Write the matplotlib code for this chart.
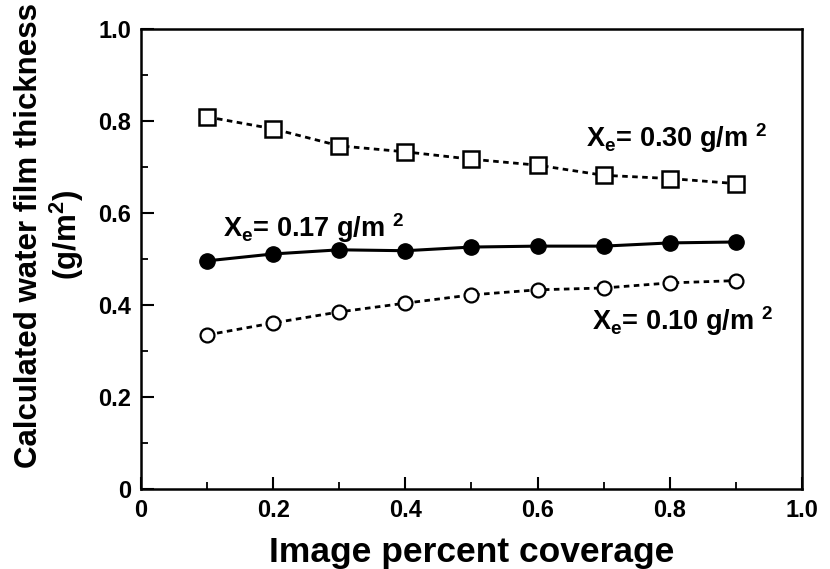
import matplotlib
matplotlib.use("Agg")
import matplotlib.pyplot as plt
from matplotlib.ticker import MultipleLocator, FixedLocator, FixedFormatter

plt.rcParams['font.family'] = ['Liberation Sans', 'DejaVu Sans']
plt.rcParams['font.weight'] = 'bold'
plt.rcParams['mathtext.default'] = 'regular'

coverage = [0.1, 0.2, 0.3, 0.4, 0.5, 0.6, 0.7, 0.8, 0.9]
xe_030 = [0.809, 0.783, 0.746, 0.733, 0.717, 0.704, 0.682, 0.675, 0.664]
xe_017 = [0.496, 0.511, 0.520, 0.518, 0.526, 0.528, 0.528, 0.535, 0.537]
xe_010 = [0.335, 0.361, 0.385, 0.404, 0.422, 0.433, 0.437, 0.448, 0.453]

tick_vals = [0, 0.2, 0.4, 0.6, 0.8, 1.0]
tick_labels = ['0', '0.2', '0.4', '0.6', '0.8', '1.0']

fig = plt.figure(figsize=(8.3, 5.69), dpi=100)
ax = fig.add_axes([0.170, 0.1406, 0.796, 0.8084])

ax.plot(coverage, xe_030, linestyle=(0, (2.0, 1.6)), color='black', lw=2.0,
        marker='s', markersize=12, markerfacecolor='white', markeredgecolor='black', markeredgewidth=1.8)
ax.plot(coverage, xe_017, linestyle='-', color='black', lw=2.2,
        marker='o', markersize=11, markerfacecolor='black', markeredgecolor='black')
ax.plot(coverage, xe_010, linestyle=(0, (2.0, 1.6)), color='black', lw=2.0,
        marker='o', markersize=10, markerfacecolor='white', markeredgecolor='black', markeredgewidth=1.6)

ax.set_xlim(0, 1.0)
ax.set_ylim(0, 1.0)
ax.xaxis.set_major_locator(FixedLocator(tick_vals))
ax.xaxis.set_major_formatter(FixedFormatter(tick_labels))
ax.yaxis.set_major_locator(FixedLocator(tick_vals))
ax.yaxis.set_major_formatter(FixedFormatter(tick_labels))
ax.xaxis.set_minor_locator(MultipleLocator(0.1))
ax.yaxis.set_minor_locator(MultipleLocator(0.1))
ax.tick_params(which='both', direction='in', top=False, right=False)
ax.tick_params(which='major', length=9, width=1.5, labelsize=17, pad=7)
ax.tick_params(which='minor', length=5, width=1.3)
for lab in ax.get_xticklabels() + ax.get_yticklabels():
    lab.set_fontweight('bold')
for s in ax.spines.values():
    s.set_linewidth(1.8)

ax.set_xlabel('Image percent coverage', fontsize=25.5, fontweight='bold', labelpad=10)
fig.text(50 / 830, 1 - 235 / 569, 'Calculated water film thickness\n(g/m$^2$)',
         rotation=90, ha='center', va='center', fontsize=22.5, fontweight='bold',
         linespacing=1.15)

ax.text(0.674, 0.743, 'X$_e$= 0.30 g/m $^2$', fontsize=19.5, fontweight='bold')
ax.text(0.124, 0.548, 'X$_e$= 0.17 g/m $^2$', fontsize=19.5, fontweight='bold')
ax.text(0.682, 0.346, 'X$_e$= 0.10 g/m $^2$', fontsize=19.5, fontweight='bold')

fig.savefig('out.png', dpi=100)
